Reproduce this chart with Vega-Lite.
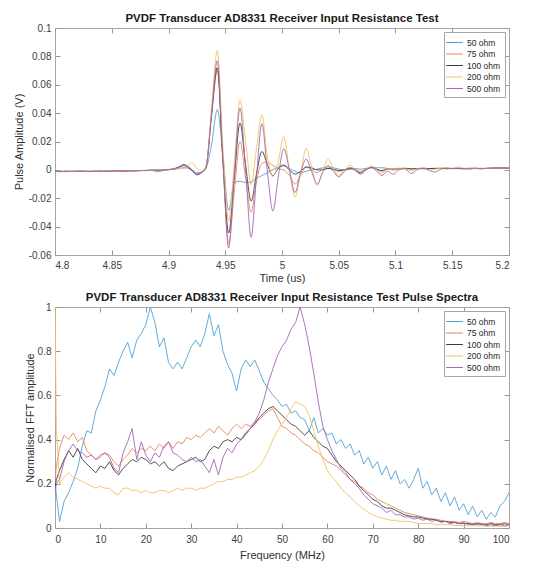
{
"$schema": "https://vega.github.io/schema/vega-lite/v6.json",
"padding": {"left": 12, "top": 12, "right": 10, "bottom": 3},
"bounds": "flush",
"spacing": 52,
"resolve": {"scale": {"color": "independent"}},
"config": {
  "locale": {"number": {"decimal": ".", "thousands": ",", "grouping": [3], "currency": ["$", ""], "minus": "-"}},
  "font": "Liberation Sans",
  "view": {"stroke": "#a6a6a6", "strokeWidth": 1},
  "axis": {"grid": false, "domain": false, "ticks": true, "tickSize": -5, "tickColor": "#9a9a9a", "labelPadding": 9, "labelFontSize": 10, "labelColor": "#404040", "labelFont": "Liberation Sans", "titleFont": "Liberation Sans", "titleFontSize": 11, "titleFontWeight": "normal", "titleColor": "#303030"},
  "title": {"fontSize": 11.5, "fontWeight": "bold", "color": "#1a1a1a", "offset": 0, "dy": 5, "anchor": "middle", "frame": "group", "font": "Liberation Sans"},
  "legend": {"orient": "top-right", "offset": 4, "strokeColor": "#a6a6a6", "fillColor": "#ffffff", "padding": 4, "labelFontSize": 8.5, "labelColor": "#262626", "labelFont": "Liberation Sans", "symbolType": "M-1.4,0H1.4", "symbolSize": 144, "symbolStrokeWidth": 1, "rowPadding": 0.5, "labelOffset": 6, "cornerRadius": 0}
},
"vconcat": [
{
  "title": {"text": "PVDF Transducer AD8331 Receiver Input Resistance Test"},
  "width": 454, "height": 227,
  "data": {"values": [
{"t":4.8,"50 ohm":-0.0010,"75 ohm":-0.0012,"100 ohm":-0.0008,"200 ohm":-0.0010,"500 ohm":-0.0011},
{"t":4.805,"50 ohm":-0.0012,"75 ohm":-0.0010,"100 ohm":-0.0011,"200 ohm":-0.0009,"500 ohm":-0.0013},
{"t":4.81,"50 ohm":-0.0009,"75 ohm":-0.0013,"100 ohm":-0.0010,"200 ohm":-0.0011,"500 ohm":-0.0010},
{"t":4.815,"50 ohm":-0.0011,"75 ohm":-0.0010,"100 ohm":-0.0012,"200 ohm":-0.0010,"500 ohm":-0.0009},
{"t":4.82,"50 ohm":-0.0010,"75 ohm":-0.0009,"100 ohm":-0.0010,"200 ohm":-0.0012,"500 ohm":-0.0011},
{"t":4.825,"50 ohm":-0.0008,"75 ohm":-0.0011,"100 ohm":-0.0009,"200 ohm":-0.0010,"500 ohm":-0.0012},
{"t":4.83,"50 ohm":-0.0011,"75 ohm":-0.0010,"100 ohm":-0.0012,"200 ohm":-0.0008,"500 ohm":-0.0010},
{"t":4.835,"50 ohm":-0.0009,"75 ohm":-0.0012,"100 ohm":-0.0010,"200 ohm":-0.0010,"500 ohm":-0.0009},
{"t":4.84,"50 ohm":-0.0012,"75 ohm":-0.0009,"100 ohm":-0.0008,"200 ohm":-0.0011,"500 ohm":-0.0011},
{"t":4.845,"50 ohm":-0.0008,"75 ohm":-0.0010,"100 ohm":-0.0011,"200 ohm":-0.0009,"500 ohm":-0.0008},
{"t":4.85,"50 ohm":-0.0010,"75 ohm":-0.0008,"100 ohm":-0.0009,"200 ohm":-0.0008,"500 ohm":-0.0010},
{"t":4.855,"50 ohm":-0.0007,"75 ohm":-0.0009,"100 ohm":-0.0008,"200 ohm":-0.0010,"500 ohm":-0.0007},
{"t":4.86,"50 ohm":-0.0009,"75 ohm":-0.0006,"100 ohm":-0.0010,"200 ohm":-0.0007,"500 ohm":-0.0009},
{"t":4.865,"50 ohm":-0.0006,"75 ohm":-0.0008,"100 ohm":-0.0006,"200 ohm":-0.0008,"500 ohm":-0.0006},
{"t":4.87,"50 ohm":-0.0008,"75 ohm":-0.0005,"100 ohm":-0.0007,"200 ohm":-0.0005,"500 ohm":-0.0007},
{"t":4.875,"50 ohm":-0.0004,"75 ohm":-0.0006,"100 ohm":-0.0005,"200 ohm":-0.0006,"500 ohm":-0.0004},
{"t":4.88,"50 ohm":-0.0006,"75 ohm":-0.0003,"100 ohm":-0.0004,"200 ohm":-0.0003,"500 ohm":-0.0005},
{"t":4.885,"50 ohm":-0.0002,"75 ohm":-0.0004,"100 ohm":-0.0002,"200 ohm":-0.0004,"500 ohm":-0.0001},
{"t":4.89,"50 ohm":-0.0014,"75 ohm":-0.0002,"100 ohm":-0.0001,"200 ohm":-0.0001,"500 ohm":-0.0003},
{"t":4.895,"50 ohm":-0.0005,"75 ohm":0.0000,"100 ohm":0.0001,"200 ohm":0.0002,"500 ohm":0.0000},
{"t":4.9,"50 ohm":0.0000,"75 ohm":0.0003,"100 ohm":0.0002,"200 ohm":0.0004,"500 ohm":0.0002},
{"t":4.905,"50 ohm":0.0004,"75 ohm":0.0006,"100 ohm":0.0008,"200 ohm":0.0006,"500 ohm":0.0007},
{"t":4.91,"50 ohm":0.0010,"75 ohm":0.0018,"100 ohm":0.0025,"200 ohm":0.0012,"500 ohm":0.0020},
{"t":4.9135,"50 ohm":0.0015,"75 ohm":0.0028,"100 ohm":0.0038,"200 ohm":0.0010,"500 ohm":0.0032},
{"t":4.917,"50 ohm":0.0012,"75 ohm":0.0015,"100 ohm":0.0025,"200 ohm":0.0030,"500 ohm":0.0018},
{"t":4.9206,"50 ohm":0.0000,"75 ohm":-0.0005,"100 ohm":0.0000,"200 ohm":0.0050,"500 ohm":-0.0005},
{"t":4.925,"50 ohm":-0.0020,"75 ohm":-0.0030,"100 ohm":-0.0035,"200 ohm":0.0010,"500 ohm":-0.0030},
{"t":4.929,"50 ohm":-0.0015,"75 ohm":-0.0015,"100 ohm":-0.0020,"200 ohm":-0.0010,"500 ohm":-0.0020},
{"t":4.933,"50 ohm":0.0010,"75 ohm":0.0020,"100 ohm":0.0020,"200 ohm":0.0020,"500 ohm":0.0015},
{"t":4.938,"50 ohm":0.0180,"75 ohm":0.0380,"100 ohm":0.0400,"200 ohm":0.0450,"500 ohm":0.0400},
{"t":4.943,"50 ohm":0.0425,"75 ohm":0.0700,"100 ohm":0.0720,"200 ohm":0.0840,"500 ohm":0.0770},
{"t":4.948,"50 ohm":0.0100,"75 ohm":0.0050,"100 ohm":0.0060,"200 ohm":0.0150,"500 ohm":0.0050},
{"t":4.953,"50 ohm":-0.0285,"75 ohm":-0.0520,"100 ohm":-0.0445,"200 ohm":-0.0360,"500 ohm":-0.0550},
{"t":4.958,"50 ohm":-0.0090,"75 ohm":-0.0150,"100 ohm":-0.0050,"200 ohm":0.0050,"500 ohm":-0.0030},
{"t":4.963,"50 ohm":-0.0080,"75 ohm":0.0200,"100 ohm":0.0330,"200 ohm":0.0490,"500 ohm":0.0435},
{"t":4.968,"50 ohm":-0.0090,"75 ohm":-0.0060,"100 ohm":0.0030,"200 ohm":0.0200,"500 ohm":-0.0010},
{"t":4.9728,"50 ohm":-0.0085,"75 ohm":-0.0300,"100 ohm":-0.0220,"200 ohm":-0.0105,"500 ohm":-0.0475},
{"t":4.9775,"50 ohm":-0.0060,"75 ohm":-0.0080,"100 ohm":-0.0030,"200 ohm":0.0150,"500 ohm":-0.0050},
{"t":4.9823,"50 ohm":-0.0040,"75 ohm":0.0045,"100 ohm":0.0130,"200 ohm":0.0385,"500 ohm":0.0325},
{"t":4.987,"50 ohm":-0.0020,"75 ohm":0.0055,"100 ohm":0.0040,"200 ohm":0.0100,"500 ohm":0.0000},
{"t":4.992,"50 ohm":0.0000,"75 ohm":0.0030,"100 ohm":-0.0040,"200 ohm":-0.0050,"500 ohm":-0.0290},
{"t":4.9967,"50 ohm":0.0020,"75 ohm":0.0010,"100 ohm":0.0010,"200 ohm":0.0060,"500 ohm":-0.0050},
{"t":5.0015,"50 ohm":0.0035,"75 ohm":0.0000,"100 ohm":0.0030,"200 ohm":0.0235,"500 ohm":0.0150},
{"t":5.0065,"50 ohm":0.0010,"75 ohm":-0.0040,"100 ohm":0.0000,"200 ohm":0.0000,"500 ohm":0.0000},
{"t":5.0115,"50 ohm":-0.0010,"75 ohm":-0.0100,"100 ohm":-0.0030,"200 ohm":-0.0190,"500 ohm":-0.0160},
{"t":5.0163,"50 ohm":-0.0020,"75 ohm":-0.0040,"100 ohm":-0.0010,"200 ohm":-0.0030,"500 ohm":-0.0020},
{"t":5.0213,"50 ohm":-0.0010,"75 ohm":0.0020,"100 ohm":0.0020,"200 ohm":0.0150,"500 ohm":0.0075},
{"t":5.026,"50 ohm":0.0000,"75 ohm":0.0000,"100 ohm":0.0015,"200 ohm":0.0020,"500 ohm":-0.0010},
{"t":5.031,"50 ohm":0.0005,"75 ohm":-0.0020,"100 ohm":0.0000,"200 ohm":-0.0110,"500 ohm":-0.0100},
{"t":5.0358,"50 ohm":0.0015,"75 ohm":0.0005,"100 ohm":0.0000,"200 ohm":-0.0010,"500 ohm":-0.0020},
{"t":5.0405,"50 ohm":0.0020,"75 ohm":0.0010,"100 ohm":0.0010,"200 ohm":0.0075,"500 ohm":0.0030},
{"t":5.0453,"50 ohm":0.0015,"75 ohm":0.0000,"100 ohm":0.0005,"200 ohm":0.0010,"500 ohm":-0.0010},
{"t":5.05,"50 ohm":0.0005,"75 ohm":-0.0010,"100 ohm":-0.0005,"200 ohm":-0.0040,"500 ohm":-0.0050},
{"t":5.055,"50 ohm":0.0000,"75 ohm":0.0000,"100 ohm":0.0000,"200 ohm":0.0000,"500 ohm":-0.0010},
{"t":5.06,"50 ohm":0.0005,"75 ohm":0.0015,"100 ohm":0.0010,"200 ohm":0.0035,"500 ohm":0.0015},
{"t":5.0645,"50 ohm":0.0010,"75 ohm":0.0005,"100 ohm":0.0000,"200 ohm":0.0000,"500 ohm":-0.0005},
{"t":5.069,"50 ohm":0.0005,"75 ohm":-0.0010,"100 ohm":-0.0020,"200 ohm":-0.0030,"500 ohm":-0.0030},
{"t":5.074,"50 ohm":0.0010,"75 ohm":0.0005,"100 ohm":0.0000,"200 ohm":0.0000,"500 ohm":0.0000},
{"t":5.079,"50 ohm":0.0020,"75 ohm":0.0015,"100 ohm":0.0020,"200 ohm":0.0025,"500 ohm":0.0015},
{"t":5.0835,"50 ohm":0.0015,"75 ohm":0.0000,"100 ohm":0.0005,"200 ohm":0.0000,"500 ohm":-0.0010},
{"t":5.088,"50 ohm":0.0015,"75 ohm":-0.0010,"100 ohm":-0.0005,"200 ohm":-0.0025,"500 ohm":-0.0040},
{"t":5.093,"50 ohm":0.0010,"75 ohm":0.0005,"100 ohm":0.0005,"200 ohm":0.0005,"500 ohm":-0.0010},
{"t":5.098,"50 ohm":0.0005,"75 ohm":0.0010,"100 ohm":0.0000,"200 ohm":0.0000,"500 ohm":-0.0030},
{"t":5.103,"50 ohm":0.0010,"75 ohm":0.0010,"100 ohm":0.0008,"200 ohm":0.0012,"500 ohm":0.0000},
{"t":5.108,"50 ohm":0.0012,"75 ohm":0.0008,"100 ohm":0.0010,"200 ohm":0.0010,"500 ohm":0.0008},
{"t":5.114,"50 ohm":0.0008,"75 ohm":0.0010,"100 ohm":0.0006,"200 ohm":-0.0005,"500 ohm":-0.0025},
{"t":5.12,"50 ohm":0.0010,"75 ohm":0.0009,"100 ohm":0.0010,"200 ohm":0.0010,"500 ohm":0.0005},
{"t":5.125,"50 ohm":0.0012,"75 ohm":0.0011,"100 ohm":0.0008,"200 ohm":0.0015,"500 ohm":0.0010},
{"t":5.13,"50 ohm":0.0009,"75 ohm":0.0008,"100 ohm":0.0010,"200 ohm":0.0000,"500 ohm":-0.0005},
{"t":5.135,"50 ohm":0.0011,"75 ohm":0.0012,"100 ohm":0.0009,"200 ohm":0.0005,"500 ohm":-0.0015},
{"t":5.14,"50 ohm":0.0010,"75 ohm":0.0010,"100 ohm":0.0011,"200 ohm":0.0012,"500 ohm":0.0005},
{"t":5.145,"50 ohm":0.0012,"75 ohm":0.0009,"100 ohm":0.0008,"200 ohm":0.0015,"500 ohm":0.0012},
{"t":5.15,"50 ohm":0.0009,"75 ohm":0.0011,"100 ohm":0.0010,"200 ohm":0.0010,"500 ohm":0.0008},
{"t":5.155,"50 ohm":0.0011,"75 ohm":0.0008,"100 ohm":0.0012,"200 ohm":0.0020,"500 ohm":0.0010},
{"t":5.16,"50 ohm":0.0008,"75 ohm":0.0010,"100 ohm":0.0009,"200 ohm":0.0012,"500 ohm":0.0007},
{"t":5.165,"50 ohm":0.0010,"75 ohm":0.0012,"100 ohm":0.0007,"200 ohm":0.0008,"500 ohm":0.0010},
{"t":5.17,"50 ohm":0.0012,"75 ohm":0.0009,"100 ohm":0.0010,"200 ohm":0.0010,"500 ohm":0.0012},
{"t":5.175,"50 ohm":0.0009,"75 ohm":0.0011,"100 ohm":0.0008,"200 ohm":0.0011,"500 ohm":0.0009},
{"t":5.18,"50 ohm":0.0011,"75 ohm":0.0010,"100 ohm":0.0010,"200 ohm":0.0009,"500 ohm":0.0011},
{"t":5.185,"50 ohm":0.0013,"75 ohm":0.0012,"100 ohm":0.0011,"200 ohm":0.0012,"500 ohm":0.0013},
{"t":5.19,"50 ohm":0.0015,"75 ohm":0.0013,"100 ohm":0.0014,"200 ohm":0.0016,"500 ohm":0.0015},
{"t":5.195,"50 ohm":0.0014,"75 ohm":0.0015,"100 ohm":0.0012,"200 ohm":0.0014,"500 ohm":0.0016},
{"t":5.2,"50 ohm":0.0012,"75 ohm":0.0013,"100 ohm":0.0011,"200 ohm":0.0013,"500 ohm":0.0014}
  ]},
  "transform": [{"fold": ["50 ohm", "75 ohm", "100 ohm", "200 ohm", "500 ohm"], "as": ["series", "v"]}],
  "resolve": {"axis": {"x": "independent", "y": "independent"}},
  "layer": [
    {
      "mark": {"type": "line", "strokeWidth": 0.9, "interpolate": "monotone", "clip": true},
      "encoding": {
        "x": {"field": "t", "type": "quantitative", "scale": {"domain": [4.8, 5.2], "nice": false, "zero": false},
              "axis": {"title": "Time (us)", "values": [4.8, 4.85, 4.9, 4.95, 5, 5.05, 5.1, 5.15, 5.2], "format": "~r", "labelPadding": 10, "titleY": 17}},
        "y": {"field": "v", "type": "quantitative", "scale": {"domain": [-0.06, 0.1], "nice": false, "zero": false},
              "axis": {"title": "Pulse Amplitude (V)", "values": [-0.06, -0.04, -0.02, 0, 0.02, 0.04, 0.06, 0.08, 0.1], "format": "~r", "titleX": -31}},
        "color": {"field": "series", "type": "nominal",
                  "scale": {"domain": ["50 ohm", "75 ohm", "100 ohm", "200 ohm", "500 ohm"], "range": ["#4da3d9", "#e8845c", "#3d3d3d", "#f0c25a", "#a466b8"]},
                  "legend": {"title": null}}
      }
    },
    {
      "mark": {"type": "line", "opacity": 0},
      "encoding": {
        "x": {"field": "t", "type": "quantitative", "scale": {"domain": [4.8, 5.2], "nice": false, "zero": false},
              "axis": {"orient": "top", "labels": false, "title": null, "values": [4.8, 4.85, 4.9, 4.95, 5, 5.05, 5.1, 5.15, 5.2]}},
        "y": {"field": "v", "type": "quantitative", "scale": {"domain": [-0.06, 0.1], "nice": false, "zero": false},
              "axis": {"orient": "right", "labels": false, "title": null, "values": [-0.06, -0.04, -0.02, 0, 0.02, 0.04, 0.06, 0.08, 0.1]}},
        "detail": {"field": "series"}
      }
    }
  ]
},
{
  "title": {"text": "PVDF Transducer AD8331 Receiver Input Resistance Test Pulse Spectra"},
  "width": 454, "height": 221,
  "data": {"values": [
{"f":0,"50 ohm":0.20,"75 ohm":0.20,"100 ohm":0.18,"200 ohm":1.00,"500 ohm":0.15},
{"f":0.3,"50 ohm":0.15,"75 ohm":0.28,"100 ohm":0.22,"200 ohm":0.45,"500 ohm":0.20},
{"f":1,"50 ohm":0.03,"75 ohm":0.36,"100 ohm":0.26,"200 ohm":0.20,"500 ohm":0.22},
{"f":2,"50 ohm":0.12,"75 ohm":0.42,"100 ohm":0.31,"200 ohm":0.23,"500 ohm":0.30},
{"f":3,"50 ohm":0.16,"75 ohm":0.40,"100 ohm":0.35,"200 ohm":0.25,"500 ohm":0.35},
{"f":4,"50 ohm":0.21,"75 ohm":0.43,"100 ohm":0.32,"200 ohm":0.23,"500 ohm":0.38},
{"f":5,"50 ohm":0.27,"75 ohm":0.39,"100 ohm":0.36,"200 ohm":0.22,"500 ohm":0.35},
{"f":6,"50 ohm":0.37,"75 ohm":0.41,"100 ohm":0.31,"200 ohm":0.21,"500 ohm":0.34},
{"f":7,"50 ohm":0.44,"75 ohm":0.35,"100 ohm":0.29,"200 ohm":0.20,"500 ohm":0.32},
{"f":8,"50 ohm":0.43,"75 ohm":0.33,"100 ohm":0.27,"200 ohm":0.19,"500 ohm":0.33},
{"f":9,"50 ohm":0.53,"75 ohm":0.31,"100 ohm":0.25,"200 ohm":0.18,"500 ohm":0.31},
{"f":10,"50 ohm":0.58,"75 ohm":0.32,"100 ohm":0.28,"200 ohm":0.19,"500 ohm":0.33},
{"f":11,"50 ohm":0.64,"75 ohm":0.34,"100 ohm":0.27,"200 ohm":0.18,"500 ohm":0.34},
{"f":12,"50 ohm":0.72,"75 ohm":0.33,"100 ohm":0.30,"200 ohm":0.18,"500 ohm":0.32},
{"f":13,"50 ohm":0.69,"75 ohm":0.30,"100 ohm":0.26,"200 ohm":0.16,"500 ohm":0.27},
{"f":14,"50 ohm":0.75,"75 ohm":0.28,"100 ohm":0.24,"200 ohm":0.15,"500 ohm":0.25},
{"f":15,"50 ohm":0.80,"75 ohm":0.31,"100 ohm":0.27,"200 ohm":0.18,"500 ohm":0.34},
{"f":16,"50 ohm":0.84,"75 ohm":0.33,"100 ohm":0.29,"200 ohm":0.18,"500 ohm":0.39},
{"f":17,"50 ohm":0.77,"75 ohm":0.36,"100 ohm":0.31,"200 ohm":0.17,"500 ohm":0.45},
{"f":18,"50 ohm":0.85,"75 ohm":0.34,"100 ohm":0.30,"200 ohm":0.17,"500 ohm":0.31},
{"f":19,"50 ohm":0.88,"75 ohm":0.36,"100 ohm":0.32,"200 ohm":0.16,"500 ohm":0.39},
{"f":20,"50 ohm":0.92,"75 ohm":0.35,"100 ohm":0.31,"200 ohm":0.17,"500 ohm":0.33},
{"f":21,"50 ohm":1.00,"75 ohm":0.37,"100 ohm":0.29,"200 ohm":0.16,"500 ohm":0.30},
{"f":22,"50 ohm":0.93,"75 ohm":0.35,"100 ohm":0.30,"200 ohm":0.16,"500 ohm":0.34},
{"f":23,"50 ohm":0.82,"75 ohm":0.38,"100 ohm":0.28,"200 ohm":0.17,"500 ohm":0.32},
{"f":24,"50 ohm":0.86,"75 ohm":0.36,"100 ohm":0.30,"200 ohm":0.17,"500 ohm":0.37},
{"f":25,"50 ohm":0.75,"75 ohm":0.39,"100 ohm":0.27,"200 ohm":0.16,"500 ohm":0.39},
{"f":26,"50 ohm":0.72,"75 ohm":0.36,"100 ohm":0.26,"200 ohm":0.17,"500 ohm":0.34},
{"f":27,"50 ohm":0.75,"75 ohm":0.39,"100 ohm":0.28,"200 ohm":0.18,"500 ohm":0.33},
{"f":28,"50 ohm":0.72,"75 ohm":0.38,"100 ohm":0.29,"200 ohm":0.17,"500 ohm":0.31},
{"f":29,"50 ohm":0.77,"75 ohm":0.41,"100 ohm":0.30,"200 ohm":0.18,"500 ohm":0.30},
{"f":30,"50 ohm":0.82,"75 ohm":0.40,"100 ohm":0.31,"200 ohm":0.18,"500 ohm":0.32},
{"f":31,"50 ohm":0.85,"75 ohm":0.42,"100 ohm":0.32,"200 ohm":0.17,"500 ohm":0.30},
{"f":32,"50 ohm":0.82,"75 ohm":0.41,"100 ohm":0.30,"200 ohm":0.18,"500 ohm":0.31},
{"f":33,"50 ohm":0.88,"75 ohm":0.43,"100 ohm":0.31,"200 ohm":0.18,"500 ohm":0.28},
{"f":34,"50 ohm":0.97,"75 ohm":0.45,"100 ohm":0.35,"200 ohm":0.19,"500 ohm":0.25},
{"f":35,"50 ohm":0.87,"75 ohm":0.43,"100 ohm":0.37,"200 ohm":0.20,"500 ohm":0.31},
{"f":36,"50 ohm":0.92,"75 ohm":0.46,"100 ohm":0.36,"200 ohm":0.21,"500 ohm":0.24},
{"f":37,"50 ohm":0.80,"75 ohm":0.44,"100 ohm":0.39,"200 ohm":0.21,"500 ohm":0.32},
{"f":38,"50 ohm":0.74,"75 ohm":0.42,"100 ohm":0.40,"200 ohm":0.22,"500 ohm":0.36},
{"f":39,"50 ohm":0.70,"75 ohm":0.45,"100 ohm":0.39,"200 ohm":0.22,"500 ohm":0.34},
{"f":40,"50 ohm":0.62,"75 ohm":0.47,"100 ohm":0.41,"200 ohm":0.23,"500 ohm":0.38},
{"f":41,"50 ohm":0.72,"75 ohm":0.45,"100 ohm":0.40,"200 ohm":0.23,"500 ohm":0.40},
{"f":42,"50 ohm":0.76,"75 ohm":0.47,"100 ohm":0.43,"200 ohm":0.24,"500 ohm":0.42},
{"f":43,"50 ohm":0.73,"75 ohm":0.46,"100 ohm":0.45,"200 ohm":0.25,"500 ohm":0.45},
{"f":44,"50 ohm":0.76,"75 ohm":0.48,"100 ohm":0.47,"200 ohm":0.26,"500 ohm":0.48},
{"f":45,"50 ohm":0.71,"75 ohm":0.49,"100 ohm":0.50,"200 ohm":0.28,"500 ohm":0.52},
{"f":46,"50 ohm":0.66,"75 ohm":0.51,"100 ohm":0.52,"200 ohm":0.31,"500 ohm":0.58},
{"f":47,"50 ohm":0.63,"75 ohm":0.53,"100 ohm":0.54,"200 ohm":0.35,"500 ohm":0.66},
{"f":48,"50 ohm":0.60,"75 ohm":0.54,"100 ohm":0.55,"200 ohm":0.40,"500 ohm":0.72},
{"f":49,"50 ohm":0.58,"75 ohm":0.50,"100 ohm":0.53,"200 ohm":0.44,"500 ohm":0.78},
{"f":50,"50 ohm":0.55,"75 ohm":0.46,"100 ohm":0.51,"200 ohm":0.47,"500 ohm":0.82},
{"f":51,"50 ohm":0.56,"75 ohm":0.45,"100 ohm":0.49,"200 ohm":0.50,"500 ohm":0.85},
{"f":52,"50 ohm":0.52,"75 ohm":0.43,"100 ohm":0.47,"200 ohm":0.54,"500 ohm":0.90},
{"f":53,"50 ohm":0.53,"75 ohm":0.42,"100 ohm":0.46,"200 ohm":0.57,"500 ohm":0.93},
{"f":54,"50 ohm":0.50,"75 ohm":0.40,"100 ohm":0.44,"200 ohm":0.56,"500 ohm":1.00},
{"f":55,"50 ohm":0.49,"75 ohm":0.38,"100 ohm":0.42,"200 ohm":0.55,"500 ohm":0.92},
{"f":56,"50 ohm":0.44,"75 ohm":0.37,"100 ohm":0.44,"200 ohm":0.51,"500 ohm":0.82},
{"f":57,"50 ohm":0.50,"75 ohm":0.35,"100 ohm":0.41,"200 ohm":0.44,"500 ohm":0.70},
{"f":58,"50 ohm":0.43,"75 ohm":0.34,"100 ohm":0.39,"200 ohm":0.37,"500 ohm":0.57},
{"f":59,"50 ohm":0.45,"75 ohm":0.32,"100 ohm":0.37,"200 ohm":0.31,"500 ohm":0.46},
{"f":60,"50 ohm":0.42,"75 ohm":0.30,"100 ohm":0.36,"200 ohm":0.26,"500 ohm":0.40},
{"f":61,"50 ohm":0.43,"75 ohm":0.29,"100 ohm":0.33,"200 ohm":0.23,"500 ohm":0.35},
{"f":62,"50 ohm":0.38,"75 ohm":0.28,"100 ohm":0.30,"200 ohm":0.21,"500 ohm":0.31},
{"f":63,"50 ohm":0.40,"75 ohm":0.26,"100 ohm":0.28,"200 ohm":0.18,"500 ohm":0.27},
{"f":64,"50 ohm":0.36,"75 ohm":0.24,"100 ohm":0.26,"200 ohm":0.16,"500 ohm":0.25},
{"f":65,"50 ohm":0.38,"75 ohm":0.22,"100 ohm":0.24,"200 ohm":0.14,"500 ohm":0.22},
{"f":66,"50 ohm":0.33,"75 ohm":0.21,"100 ohm":0.22,"200 ohm":0.12,"500 ohm":0.20},
{"f":67,"50 ohm":0.35,"75 ohm":0.19,"100 ohm":0.19,"200 ohm":0.10,"500 ohm":0.18},
{"f":68,"50 ohm":0.29,"75 ohm":0.18,"100 ohm":0.17,"200 ohm":0.085,"500 ohm":0.15},
{"f":69,"50 ohm":0.32,"75 ohm":0.16,"100 ohm":0.15,"200 ohm":0.07,"500 ohm":0.13},
{"f":70,"50 ohm":0.27,"75 ohm":0.15,"100 ohm":0.13,"200 ohm":0.06,"500 ohm":0.11},
{"f":71,"50 ohm":0.30,"75 ohm":0.13,"100 ohm":0.12,"200 ohm":0.05,"500 ohm":0.10},
{"f":72,"50 ohm":0.24,"75 ohm":0.12,"100 ohm":0.10,"200 ohm":0.045,"500 ohm":0.09},
{"f":73,"50 ohm":0.28,"75 ohm":0.11,"100 ohm":0.09,"200 ohm":0.04,"500 ohm":0.07},
{"f":74,"50 ohm":0.22,"75 ohm":0.10,"100 ohm":0.09,"200 ohm":0.035,"500 ohm":0.08},
{"f":75,"50 ohm":0.26,"75 ohm":0.09,"100 ohm":0.08,"200 ohm":0.035,"500 ohm":0.06},
{"f":76,"50 ohm":0.20,"75 ohm":0.08,"100 ohm":0.07,"200 ohm":0.03,"500 ohm":0.06},
{"f":77,"50 ohm":0.22,"75 ohm":0.07,"100 ohm":0.06,"200 ohm":0.03,"500 ohm":0.05},
{"f":78,"50 ohm":0.18,"75 ohm":0.065,"100 ohm":0.055,"200 ohm":0.03,"500 ohm":0.05},
{"f":79,"50 ohm":0.22,"75 ohm":0.06,"100 ohm":0.05,"200 ohm":0.025,"500 ohm":0.04},
{"f":80,"50 ohm":0.27,"75 ohm":0.055,"100 ohm":0.05,"200 ohm":0.02,"500 ohm":0.045},
{"f":81,"50 ohm":0.18,"75 ohm":0.05,"100 ohm":0.045,"200 ohm":0.02,"500 ohm":0.035},
{"f":82,"50 ohm":0.21,"75 ohm":0.045,"100 ohm":0.04,"200 ohm":0.02,"500 ohm":0.04},
{"f":83,"50 ohm":0.15,"75 ohm":0.04,"100 ohm":0.04,"200 ohm":0.02,"500 ohm":0.03},
{"f":84,"50 ohm":0.18,"75 ohm":0.04,"100 ohm":0.035,"200 ohm":0.015,"500 ohm":0.035},
{"f":85,"50 ohm":0.12,"75 ohm":0.035,"100 ohm":0.03,"200 ohm":0.015,"500 ohm":0.025},
{"f":86,"50 ohm":0.16,"75 ohm":0.03,"100 ohm":0.03,"200 ohm":0.015,"500 ohm":0.03},
{"f":87,"50 ohm":0.10,"75 ohm":0.03,"100 ohm":0.025,"200 ohm":0.015,"500 ohm":0.02},
{"f":88,"50 ohm":0.14,"75 ohm":0.03,"100 ohm":0.025,"200 ohm":0.012,"500 ohm":0.025},
{"f":89,"50 ohm":0.08,"75 ohm":0.025,"100 ohm":0.02,"200 ohm":0.012,"500 ohm":0.02},
{"f":90,"50 ohm":0.11,"75 ohm":0.03,"100 ohm":0.02,"200 ohm":0.01,"500 ohm":0.025},
{"f":91,"50 ohm":0.06,"75 ohm":0.025,"100 ohm":0.02,"200 ohm":0.01,"500 ohm":0.015},
{"f":92,"50 ohm":0.10,"75 ohm":0.02,"100 ohm":0.015,"200 ohm":0.01,"500 ohm":0.02},
{"f":93,"50 ohm":0.05,"75 ohm":0.025,"100 ohm":0.02,"200 ohm":0.01,"500 ohm":0.015},
{"f":94,"50 ohm":0.08,"75 ohm":0.02,"100 ohm":0.015,"200 ohm":0.01,"500 ohm":0.02},
{"f":95,"50 ohm":0.04,"75 ohm":0.02,"100 ohm":0.015,"200 ohm":0.008,"500 ohm":0.01},
{"f":96,"50 ohm":0.07,"75 ohm":0.025,"100 ohm":0.02,"200 ohm":0.008,"500 ohm":0.015},
{"f":97,"50 ohm":0.05,"75 ohm":0.02,"100 ohm":0.015,"200 ohm":0.008,"500 ohm":0.01},
{"f":98,"50 ohm":0.10,"75 ohm":0.02,"100 ohm":0.015,"200 ohm":0.008,"500 ohm":0.015},
{"f":99,"50 ohm":0.12,"75 ohm":0.025,"100 ohm":0.02,"200 ohm":0.008,"500 ohm":0.01},
{"f":100,"50 ohm":0.16,"75 ohm":0.02,"100 ohm":0.015,"200 ohm":0.008,"500 ohm":0.015}
  ]},
  "transform": [{"fold": ["50 ohm", "75 ohm", "100 ohm", "200 ohm", "500 ohm"], "as": ["series", "v"]}],
  "resolve": {"axis": {"x": "independent", "y": "independent"}},
  "layer": [
    {
      "mark": {"type": "line", "strokeWidth": 0.9, "clip": true},
      "encoding": {
        "x": {"field": "f", "type": "quantitative", "scale": {"domain": [0, 100], "nice": false},
              "axis": {"title": "Frequency (MHz)", "values": [0, 10, 20, 30, 40, 50, 60, 70, 80, 90, 100], "format": "~r", "labelPadding": 11, "titleY": 21}},
        "y": {"field": "v", "type": "quantitative", "scale": {"domain": [0, 1], "nice": false},
              "axis": {"title": "Normalised FFT amplitude", "values": [0, 0.2, 0.4, 0.6, 0.8, 1], "format": "~r", "titleX": -20}},
        "color": {"field": "series", "type": "nominal",
                  "scale": {"domain": ["50 ohm", "75 ohm", "100 ohm", "200 ohm", "500 ohm"], "range": ["#4da3d9", "#e8845c", "#3d3d3d", "#f0c25a", "#a466b8"]},
                  "legend": {"title": null}}
      }
    },
    {
      "mark": {"type": "line", "opacity": 0},
      "encoding": {
        "x": {"field": "f", "type": "quantitative", "scale": {"domain": [0, 100], "nice": false},
              "axis": {"orient": "top", "labels": false, "title": null, "values": [0, 10, 20, 30, 40, 50, 60, 70, 80, 90, 100]}},
        "y": {"field": "v", "type": "quantitative", "scale": {"domain": [0, 1], "nice": false},
              "axis": {"orient": "right", "labels": false, "title": null, "values": [0, 0.2, 0.4, 0.6, 0.8, 1]}},
        "detail": {"field": "series"}
      }
    }
  ]
}
]
}
